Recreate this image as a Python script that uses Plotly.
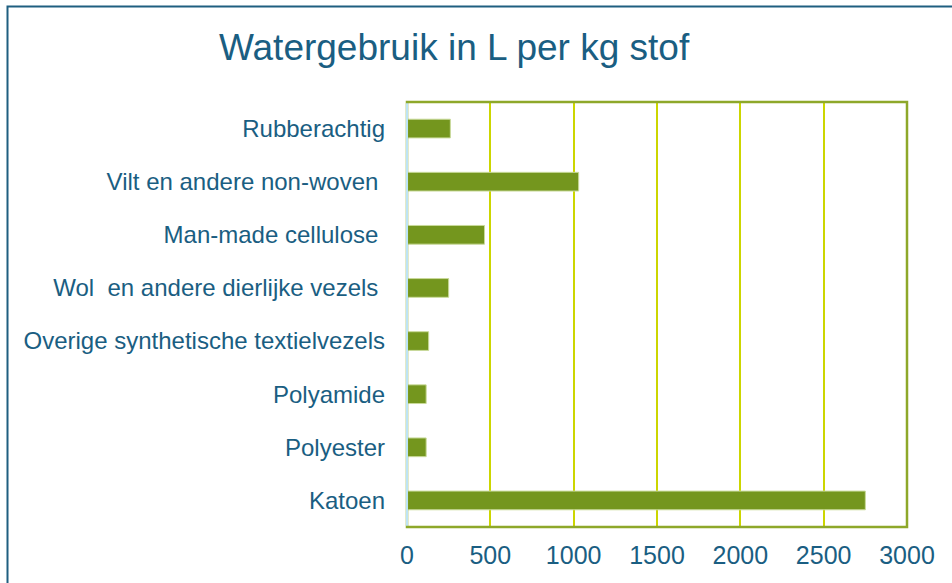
import plotly.graph_objects as go

categories = [
    "Katoen",
    "Polyester",
    "Polyamide",
    "Overige synthetische textielvezels",
    "Wol  en andere dierlijke vezels ",
    "Man-made cellulose ",
    "Vilt en andere non-woven ",
    "Rubberachtig",
]
values = [2750, 115, 115, 130, 250, 465, 1030, 260]
x_ticks = [0, 500, 1000, 1500, 2000, 2500, 3000]

TEXT = "#1A5E82"
BAR = "#74961E"
GRID = "#CCD600"
BORDER = "#8EA82A"
FONT = "Liberation Sans"

L, R, T, B = 407, 907, 102, 527

fig = go.Figure(
    go.Bar(
        x=values,
        y=categories,
        orientation="h",
        marker=dict(color=BAR, line=dict(color="#C9DA9A", width=1)),
    )
)

fig.update_layout(
    width=952,
    height=583,
    margin=dict(l=L, r=952 - R, t=T, b=583 - B),
    paper_bgcolor="white",
    plot_bgcolor="white",
    bargap=0.648,
    showlegend=False,
    font=dict(family=FONT, color=TEXT, size=24),
    title=dict(
        text="Watergebruik in L per kg stof",
        font=dict(family=FONT, size=37, color=TEXT),
        x=0.477,
        xanchor="center",
        y=0.919,
        yanchor="middle",
    ),
    xaxis=dict(
        range=[0, 3000],
        tickvals=x_ticks,
        ticktext=[str(v) for v in x_ticks],
        showgrid=True,
        gridcolor=GRID,
        gridwidth=2,
        zeroline=False,
        showline=False,
        ticks="",
        ticklabelstandoff=11,
        tickfont=dict(family=FONT, size=25, color=TEXT),
    ),
    yaxis=dict(
        categoryorder="array",
        categoryarray=categories,
        showgrid=False,
        zeroline=False,
        showline=False,
        ticks="",
        ticklabelstandoff=21,
        tickfont=dict(family=FONT, size=24, color=TEXT),
    ),
    shapes=[
        # plot-area border (olive)
        dict(type="rect", xref="paper", yref="paper", x0=0, x1=1, y0=0, y1=1,
             line=dict(color=BORDER, width=2.5), fillcolor="rgba(0,0,0,0)",
             layer="above"),
        # left value axis line (light blue)
        dict(type="line", xref="paper", yref="paper", x0=0, x1=0, y0=0.003, y1=0.997,
             line=dict(color="#BDE4F4", width=2), layer="above"),
        # outer chart border
        dict(type="rect", xref="paper", yref="paper",
             x0=(7.5 - L) / (R - L), x1=1.2, y0=-0.3, y1=(B - 6.5) / (B - T),
             line=dict(color="#1F5F80", width=2), fillcolor="rgba(0,0,0,0)"),
    ],
)

fig.write_html(
    "out.html",
    config={"displayModeBar": False},
    post_script="document.body.style.margin='0';document.body.style.overflow='hidden';",
)
